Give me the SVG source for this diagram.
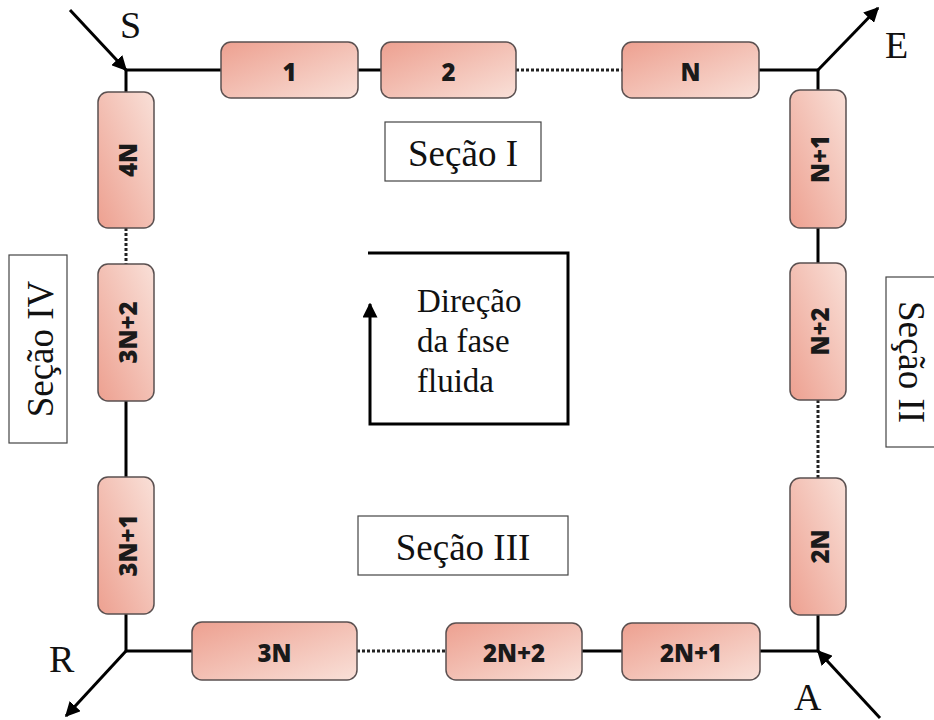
<svg xmlns="http://www.w3.org/2000/svg" width="934" height="720" viewBox="0 0 934 720">
<defs>
<linearGradient id="g" x1="0" y1="0" x2="1" y2="1">
<stop offset="0" stop-color="#eda090"/>
<stop offset="1" stop-color="#f9e0d8"/>
</linearGradient>
<linearGradient id="gv" x1="0" y1="1" x2="1" y2="0">
<stop offset="0" stop-color="#eda090"/>
<stop offset="1" stop-color="#f9e0d8"/>
</linearGradient>
<marker id="ah" viewBox="0 0 10 10" refX="9" refY="5" markerWidth="5" markerHeight="5" orient="auto" markerUnits="strokeWidth">
<path d="M0,0 L10,5 L0,10 z" fill="#000"/>
</marker>
</defs>
<style>
.box{fill:url(#g);stroke:#5a5050;stroke-width:1.5}
.vbox{fill:url(#gv);stroke:#5a5050;stroke-width:1.5}
.lbl{font-family:"Open Sans","Liberation Sans",sans-serif;font-weight:800;font-size:24px;fill:#1a1a1a;text-anchor:middle;dominant-baseline:central}
.ln{stroke:#000;stroke-width:3;fill:none}
.dot{stroke:#222;stroke-width:3;stroke-dasharray:3 2;fill:none}
.sec{fill:#fff;stroke:#444;stroke-width:1.2}
.st{font-family:"Liberation Serif",serif;font-size:37px;fill:#111;text-anchor:middle;dominant-baseline:central}
.pt{font-family:"Liberation Serif",serif;font-size:38px;fill:#111}
.dt{font-family:"Liberation Serif",serif;font-size:33px;fill:#111}
</style>
<rect width="934" height="720" fill="#fff"/>
<g id="connectors">
<path class="ln" d="M126,70 H221 M358,70 H381 M759,70 H818"/>
<path class="dot" d="M516,70 H622"/>
<path class="ln" d="M126,70 V92"/>
<path class="dot" d="M126,228 V264"/>
<path class="ln" d="M126,401 V477 M126,614 V651 H192"/>
<path class="dot" d="M357,651 H446"/>
<path class="ln" d="M582,651 H622 M760,651 H818 V615"/>
<path class="dot" d="M818,400 V478"/>
<path class="ln" d="M818,263 V228 M818,90 V70"/>
<path class="ln" d="M70,10 L126,70" stroke-width="2.5" marker-end="url(#ah)"/>
<path class="ln" d="M818,70 L878,8" stroke-width="2.5" marker-end="url(#ah)"/>
<path class="ln" d="M126,651 L66,716" stroke-width="2.5" marker-end="url(#ah)"/>
<path class="ln" d="M880,718 L818,651" stroke-width="2.5" marker-end="url(#ah)"/>
</g>
<g id="n1"><rect class="box" x="221" y="42" width="137" height="56" rx="10"/><text class="lbl" x="289.5" y="71">1</text></g>
<g id="n2"><rect class="box" x="381" y="42" width="135" height="56" rx="10"/><text class="lbl" x="448.5" y="71">2</text></g>
<g id="nN"><rect class="box" x="622" y="42" width="137" height="56" rx="10"/><text class="lbl" x="690.5" y="71">N</text></g>
<g id="nN1"><rect class="vbox" x="790" y="90" width="56" height="138" rx="10"/><text class="lbl" transform="translate(819,159) rotate(-90)">N+1</text></g>
<g id="nN2"><rect class="vbox" x="790" y="263" width="56" height="137" rx="10"/><text class="lbl" transform="translate(819,331.5) rotate(-90)">N+2</text></g>
<g id="n2N"><rect class="vbox" x="790" y="478" width="56" height="137" rx="10"/><text class="lbl" transform="translate(819,546.5) rotate(-90)">2N</text></g>
<g id="n2N1"><rect class="box" x="622" y="623" width="138" height="57" rx="10"/><text class="lbl" x="691" y="652.5">2N+1</text></g>
<g id="n2N2"><rect class="box" x="446" y="623" width="136" height="57" rx="10"/><text class="lbl" x="514" y="652.5">2N+2</text></g>
<g id="n3N"><rect class="box" x="192" y="622" width="165" height="58" rx="10"/><text class="lbl" x="274.5" y="652">3N</text></g>
<g id="n3N1"><rect class="vbox" x="98" y="477" width="56" height="137" rx="10"/><text class="lbl" transform="translate(127,545.5) rotate(-90)">3N+1</text></g>
<g id="n3N2"><rect class="vbox" x="98" y="264" width="56" height="137" rx="10"/><text class="lbl" transform="translate(127,332.5) rotate(-90)">3N+2</text></g>
<g id="n4N"><rect class="vbox" x="98" y="92" width="56" height="136" rx="10"/><text class="lbl" transform="translate(127,160) rotate(-90)">4N</text></g>
<g id="labels">
<text class="pt" x="120" y="38">S</text>
<text class="pt" x="885" y="58">E</text>
<text class="pt" x="49" y="672">R</text>
<text class="pt" x="794" y="710">A</text>
</g>
<g id="sec1"><rect class="sec" x="385" y="122" width="156" height="59"/><text class="st" x="463" y="153">Seção I</text></g>
<g id="sec3"><rect class="sec" x="358" y="516" width="210" height="59"/><text class="st" x="463" y="547">Seção III</text></g>
<g id="sec4"><rect class="sec" x="9" y="255" width="58" height="188"/><text class="st" transform="translate(40,349) rotate(-90)">Seção IV</text></g>
<g id="sec2"><rect class="sec" x="886" y="277" width="60" height="170"/><text class="st" transform="translate(911,362) rotate(90)">Seção II</text></g>
<g id="flow">
<path class="ln" d="M368,253 H568 V424 H370 V304" stroke-width="3" marker-end="url(#ah)"/>
<text class="dt" x="417" y="312">Direção</text>
<text class="dt" x="417" y="352">da fase</text>
<text class="dt" x="417" y="392">fluida</text>
</g>
</svg>
